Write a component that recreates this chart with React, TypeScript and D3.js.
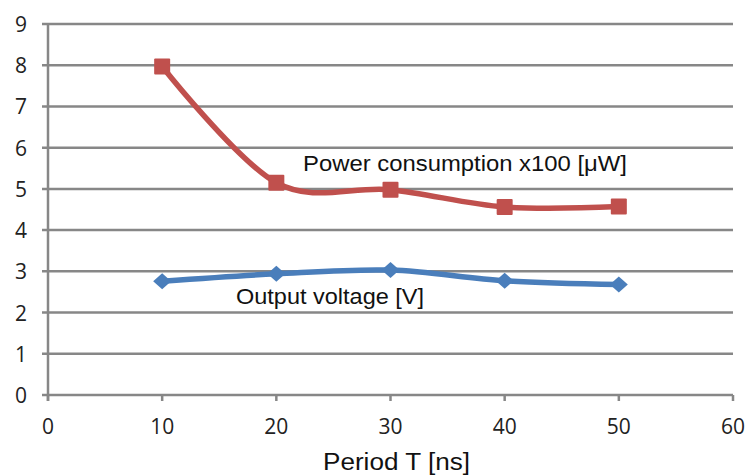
import * as d3 from "d3";

const periods = [10, 20, 30, 40, 50];
const powerValues = [7.97, 5.15, 4.98, 4.56, 4.57];
const voltageValues = [2.76, 2.94, 3.03, 2.77, 2.68];
const xTicks = [0, 10, 20, 30, 40, 50, 60];
const yTicks = [0, 1, 2, 3, 4, 5, 6, 7, 8, 9];

const WIDTH = 750;
const HEIGHT = 476;
const PLOT = { left: 48, right: 733, top: 24, bottom: 395 };

const GRID = "#878787";
const RED = "#C0504D";
const BLUE = "#4A7EBB";
const TICK_FONT = "'Open Sans', 'Noto Sans', sans-serif";
const LABEL_FONT = "'Liberation Sans', Arial, sans-serif";

function App() {
  const xScale = d3.scaleLinear().domain([0, 60]).range([PLOT.left, PLOT.right]);
  const yScale = d3.scaleLinear().domain([0, 9]).range([PLOT.bottom, PLOT.top]);

  const line = d3
    .line<[number, number]>()
    .x((d) => xScale(d[0]))
    .y((d) => yScale(d[1]))
    .curve(d3.curveCardinal.tension(0));

  const powerPts = periods.map((p, i) => [p, powerValues[i]] as [number, number]);
  const voltagePts = periods.map((p, i) => [p, voltageValues[i]] as [number, number]);

  return (
    <svg
      width={WIDTH}
      height={HEIGHT}
      style={{ position: "absolute", left: 0, top: 0, background: "white" }}
    >
      {/* horizontal grid lines */}
      {yTicks.map((t) => (
        <line
          key={"g" + t}
          x1={PLOT.left - 6}
          x2={PLOT.right}
          y1={yScale(t)}
          y2={yScale(t)}
          stroke={GRID}
          strokeWidth={2.5}
        />
      ))}
      {/* y axis */}
      <line
        x1={PLOT.left}
        x2={PLOT.left}
        y1={PLOT.top}
        y2={PLOT.bottom + 6}
        stroke={GRID}
        strokeWidth={2.5}
      />
      {/* x axis ticks */}
      {xTicks.map((t) => (
        <line
          key={"xt" + t}
          x1={xScale(t)}
          x2={xScale(t)}
          y1={PLOT.bottom}
          y2={PLOT.bottom + 6}
          stroke={GRID}
          strokeWidth={2.5}
        />
      ))}
      {yTicks.map((t) => (
        <text
          key={"yl" + t}
          x={27}
          y={yScale(t)}
          textAnchor="end"
          dominantBaseline="central"
          fontFamily={TICK_FONT}
          fontSize={21}
          fill="#222"
        >
          {t}
        </text>
      ))}
      {xTicks.map((t) => (
        <text
          key={"xl" + t}
          x={xScale(t)}
          y={426}
          textAnchor="middle"
          dominantBaseline="central"
          fontFamily={TICK_FONT}
          fontSize={21}
          fill="#222"
        >
          {t}
        </text>
      ))}

      {/* series */}
      <path d={line(powerPts) ?? ""} fill="none" stroke={RED} strokeWidth={5.5} />
      <path d={line(voltagePts) ?? ""} fill="none" stroke={BLUE} strokeWidth={5.5} />
      {powerPts.map((d, i) => (
        <rect
          key={"r" + i}
          x={xScale(d[0]) - 8}
          y={yScale(d[1]) - 8}
          width={16}
          height={16}
          rx={1}
          fill={RED}
        />
      ))}
      {voltagePts.map((d, i) => {
        const cx = xScale(d[0]);
        const cy = yScale(d[1]);
        return (
          <path
            key={"b" + i}
            d={`M${cx - 9},${cy} L${cx},${cy - 8} L${cx + 9},${cy} L${cx},${cy + 8} Z`}
            fill={BLUE}
          />
        );
      })}

      {/* labels */}
      <text
        x={303}
        y={171}
        fontFamily={LABEL_FONT}
        fontSize={22}
        fill="#111"
        textLength={324}
        lengthAdjust="spacingAndGlyphs"
      >
        Power consumption x100 [μW]
      </text>
      <text
        x={236}
        y={304}
        fontFamily={LABEL_FONT}
        fontSize={22}
        fill="#111"
        textLength={188}
        lengthAdjust="spacingAndGlyphs"
      >
        Output voltage [V]
      </text>
      <text
        x={323}
        y={470}
        fontFamily={LABEL_FONT}
        fontSize={23}
        fill="#111"
        textLength={147}
        lengthAdjust="spacingAndGlyphs"
      >
        Period T [ns]
      </text>
    </svg>
  );
}

export default App;
